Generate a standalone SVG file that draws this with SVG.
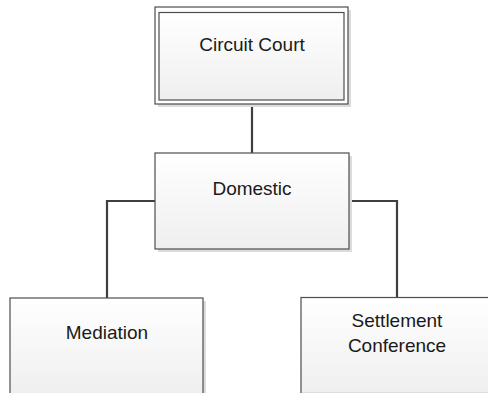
<svg xmlns="http://www.w3.org/2000/svg" width="488" height="393" viewBox="0 0 488 393">
  <defs>
    <linearGradient id="fillGrad" x1="0" y1="0" x2="0" y2="1">
      <stop offset="0" stop-color="#ffffff"/>
      <stop offset="1" stop-color="#efefef"/>
    </linearGradient>
    <style>
      .box { fill: url(#fillGrad); stroke: #4d4d4d; stroke-width: 1.2; }
      .outer { fill: #ffffff; stroke: #4d4d4d; stroke-width: 1.2; }
      .shadow { fill: #dcdcdc; }
      .label { font-family: "Liberation Sans", Arial, sans-serif; font-size: 19px; fill: #1a1a1a; text-anchor: middle; }
      .conn { fill: none; stroke: #3f3f3f; stroke-width: 2.2; }
    </style>
  </defs>
  <rect width="488" height="393" fill="#ffffff"/>

  <g id="connectors">
    <path class="conn" d="M252 104 V153"/>
    <path class="conn" d="M155 201 H107 V298"/>
    <path class="conn" d="M349 201 H397 V298"/>
  </g>

  <g id="circuit-court">
    <rect class="shadow" x="158" y="10" width="193" height="97"/>
    <rect class="outer" x="155" y="7" width="193" height="97"/>
    <rect class="box" x="159" y="12.5" width="185" height="87.5"/>
    <text class="label" x="252" y="51">Circuit Court</text>
  </g>

  <g id="domestic">
    <rect class="shadow" x="158" y="156" width="194" height="96"/>
    <rect class="box" x="155" y="153" width="194" height="96"/>
    <text class="label" x="252" y="195">Domestic</text>
  </g>

  <g id="mediation">
    <rect class="shadow" x="13" y="301" width="193" height="96"/>
    <rect class="box" x="10" y="298" width="193" height="96"/>
    <text class="label" x="107" y="339">Mediation</text>
  </g>

  <g id="settlement-conference">
    <rect class="shadow" x="304" y="301" width="193" height="96"/>
    <rect class="box" x="301" y="297.5" width="193" height="96"/>
    <text class="label" x="397" y="327">Settlement</text>
    <text class="label" x="397" y="352">Conference</text>
  </g>
</svg>
